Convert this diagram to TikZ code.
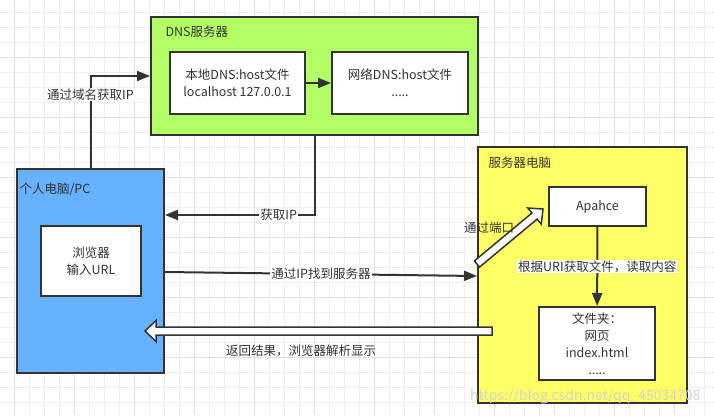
\documentclass[tikz,border=0pt]{standalone}
\usepackage{fontspec}
\setmainfont{Noto Sans CJK SC}
\usetikzlibrary{arrows.meta,calc}
\definecolor{linegray}{HTML}{333333}
\definecolor{dnsgreen}{HTML}{B3FF66}
\definecolor{pcblue}{HTML}{66B2FF}
\definecolor{srvyellow}{HTML}{FFFF66}
\definecolor{gridminor}{HTML}{EFEFEF}
\definecolor{gridmajor}{HTML}{E0E0E0}
\tikzset{
	box/.style={draw=linegray,line width=2pt,fill=white,align=center,inner sep=0pt},
	conn/.style={draw=linegray,line width=2pt,-{Triangle[length=13pt,width=10pt]}},
	lbl/.style={fill=white,inner sep=1pt},
	fatarrow/.style={draw=linegray,line width=1.5pt,fill=white,line join=miter},
}
\begin{document}
\begin{tikzpicture}[x=1pt,y=-1pt,font=\fontsize{12.5}{17}\selectfont,every node/.append style={text=linegray}]
	\useasboundingbox (0,0) rectangle (714,415);
	\fill[white] (0,0) rectangle (714,415);
	% grid
	\foreach \x in {14.5,29.5,...,714} \draw[gridminor,line width=1pt] (\x,0)--(\x,415);
	\foreach \y in {12.5,27.5,...,415} \draw[gridminor,line width=1pt] (0,\y)--(714,\y);
	\foreach \x in {14.5,74.5,...,714} \draw[gridmajor,line width=1pt] (\x,0)--(\x,415);
	\foreach \y in {57.5,117.5,...,415} \draw[gridmajor,line width=1pt] (0,\y)--(714,\y);
	% DNS
	\node[box,fill=dnsgreen,minimum width=327pt,minimum height=118pt] (dns) at (314.5,76) {};
	\node[anchor=west] (dnstitle) at (162,32) {DNS服务器};
	\node[box,minimum width=135pt,minimum height=62pt] (local) at (237.5,83) {本地DNS:host文件\\localhost 127.0.0.1};
	\node[box,minimum width=136pt,minimum height=62pt] (net) at (400,83) {网络DNS:host文件\\.....};
	% PC
	\node[box,fill=pcblue,minimum width=147pt,minimum height=204pt] (pc) at (90.5,271) {};
	\node[anchor=west] (pctitle) at (16,189) {个人电脑/PC};
	\node[box,minimum width=100pt,minimum height=70pt] (browser) at (91,261) {浏览器\\输入URL};
	% server
	\node[box,fill=srvyellow,minimum width=209pt,minimum height=256pt] (server) at (582.5,275) {};
	\node[anchor=west] (srvtitle) at (485,163) {服务器电脑};
	\node[box,minimum width=97pt,minimum height=39pt] (apache) at (597.5,206.5) {Apahce};
	\node[box,minimum width=116pt,minimum height=73pt] (folder) at (597,343.5) {文件夹：\\网页\\index.html\\.....};
	% connectors
	\draw[conn] (local)--(net);
	\draw[conn] (pc.north) |- node[lbl,pos=0.4]{通过域名获取IP} (dns.west);
	\draw[conn] (dns.south) |- node[lbl,pos=0.62]{获取IP} ([yshift=56pt]pc.east);
	\draw[conn] ([yshift=-1pt]pc.east)-- node[lbl]{通过IP找到服务器} ([yshift=-1pt]server.west);
	\draw[conn] (apache)-- node[lbl]{根据URI获取文件，读取内容} (folder);
	% hollow arrows
	\coordinate (portstart) at ([yshift=11pt]server.west);
	\coordinate (portend) at ([xshift=-5pt,yshift=-2.5pt]apache.west);
	\coordinate (porthead) at ($(portend)!11pt!(portstart)$);
	\draw[fatarrow] ($(portstart)!4pt!90:(portend)$)--($(porthead)!4pt!90:(portend)$)
		--($(porthead)!10.5pt!90:(portend)$)--(portend)--($(porthead)!10.5pt!-90:(portend)$)
		--($(porthead)!4pt!-90:(portend)$)--($(portstart)!4pt!-90:(portend)$)--cycle;
	\node (portlabel) at (489,228) {通过端口};
	\coordinate (retstart) at ([xshift=15pt,yshift=-56pt]server.west);
	\coordinate (retend) at ([xshift=-20pt,yshift=-60pt]pc.east);
	\coordinate (rethead) at ($(retend)!11pt!(retstart)$);
	\draw[fatarrow] ($(retstart)!4pt!90:(retend)$)--($(rethead)!4pt!90:(retend)$)
		--($(rethead)!10.5pt!90:(retend)$)--(retend)--($(rethead)!10.5pt!-90:(retend)$)
		--($(rethead)!4pt!-90:(retend)$)--($(retstart)!4pt!-90:(retend)$)--cycle;
	\path (retstart)-- node[pos=0.55,below=10pt] (retlabel) {返回结果，浏览器解析显示} (retend);
	\node[anchor=east,text=gray!35,font=\fontsize{14}{14}\selectfont] (mark) at (704,397) {https://blog.csdn.net/qq\_45034708};
\end{tikzpicture}
\end{document}
